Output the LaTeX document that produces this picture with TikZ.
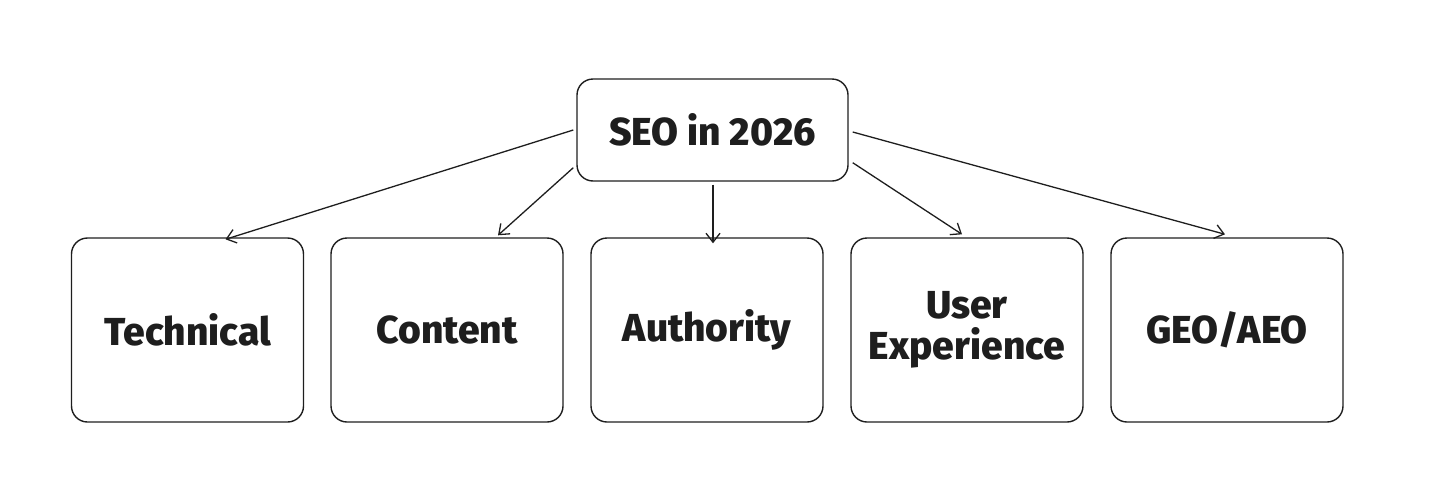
\documentclass[tikz,border=0pt]{standalone}
\usepackage{fontspec}
\setmainfont{Fira Sans}[BoldFont={Fira Sans ExtraBold}]
\usetikzlibrary{arrows.meta,calc}
\definecolor{ink}{HTML}{1E1E1E}
\begin{document}
\begin{tikzpicture}[x=1pt,y=-1pt,
  box/.style={draw=ink, line width=1.4pt, rounded corners=16pt, inner sep=0pt,
    align=center, text=ink, font=\fontsize{39}{41}\selectfont\bfseries},
  topbox/.style={box, minimum width=271pt, minimum height=102pt},
  leaf/.style={box, minimum width=232pt, minimum height=184pt},
  arr/.style={draw=ink, line width=1.3pt, -{Straight Barb[length=9pt,width=14pt,line width=1.3pt]}}]
\useasboundingbox (0,0) rectangle (1456,501);
\node[topbox] (seo) at (712.5,130) {SEO in 2026};
\node[leaf] (tech) at (187.5,330) {Technical};
\node[leaf] (cont) at (447,330) {Content};
\node[leaf] (auth) at (707,330) {Authority};
\node[leaf] (ux) at (967,330) {User\\Experience};
\node[leaf] (geo) at (1227,330) {GEO/AEO};
\draw[arr] ([xshift=-3pt]seo.west) -- ([xshift=38pt,yshift=-2pt]tech.north);
\draw[arr] ([xshift=-3pt,yshift=14pt]seo.south west) -- ([xshift=51pt,yshift=2pt]cont.north);
\draw[arr] ([xshift=0.5pt,yshift=-3pt]seo.south) -- ([xshift=6pt,yshift=-6pt]auth.north);
\draw[arr] ([xshift=4pt,yshift=19pt]seo.south east) -- ([xshift=-5pt,yshift=3pt]ux.north);
\draw[arr] ([xshift=4pt,yshift=-2pt]seo.east) -- ([xshift=-2pt,yshift=3pt]geo.north);
\end{tikzpicture}
\end{document}
